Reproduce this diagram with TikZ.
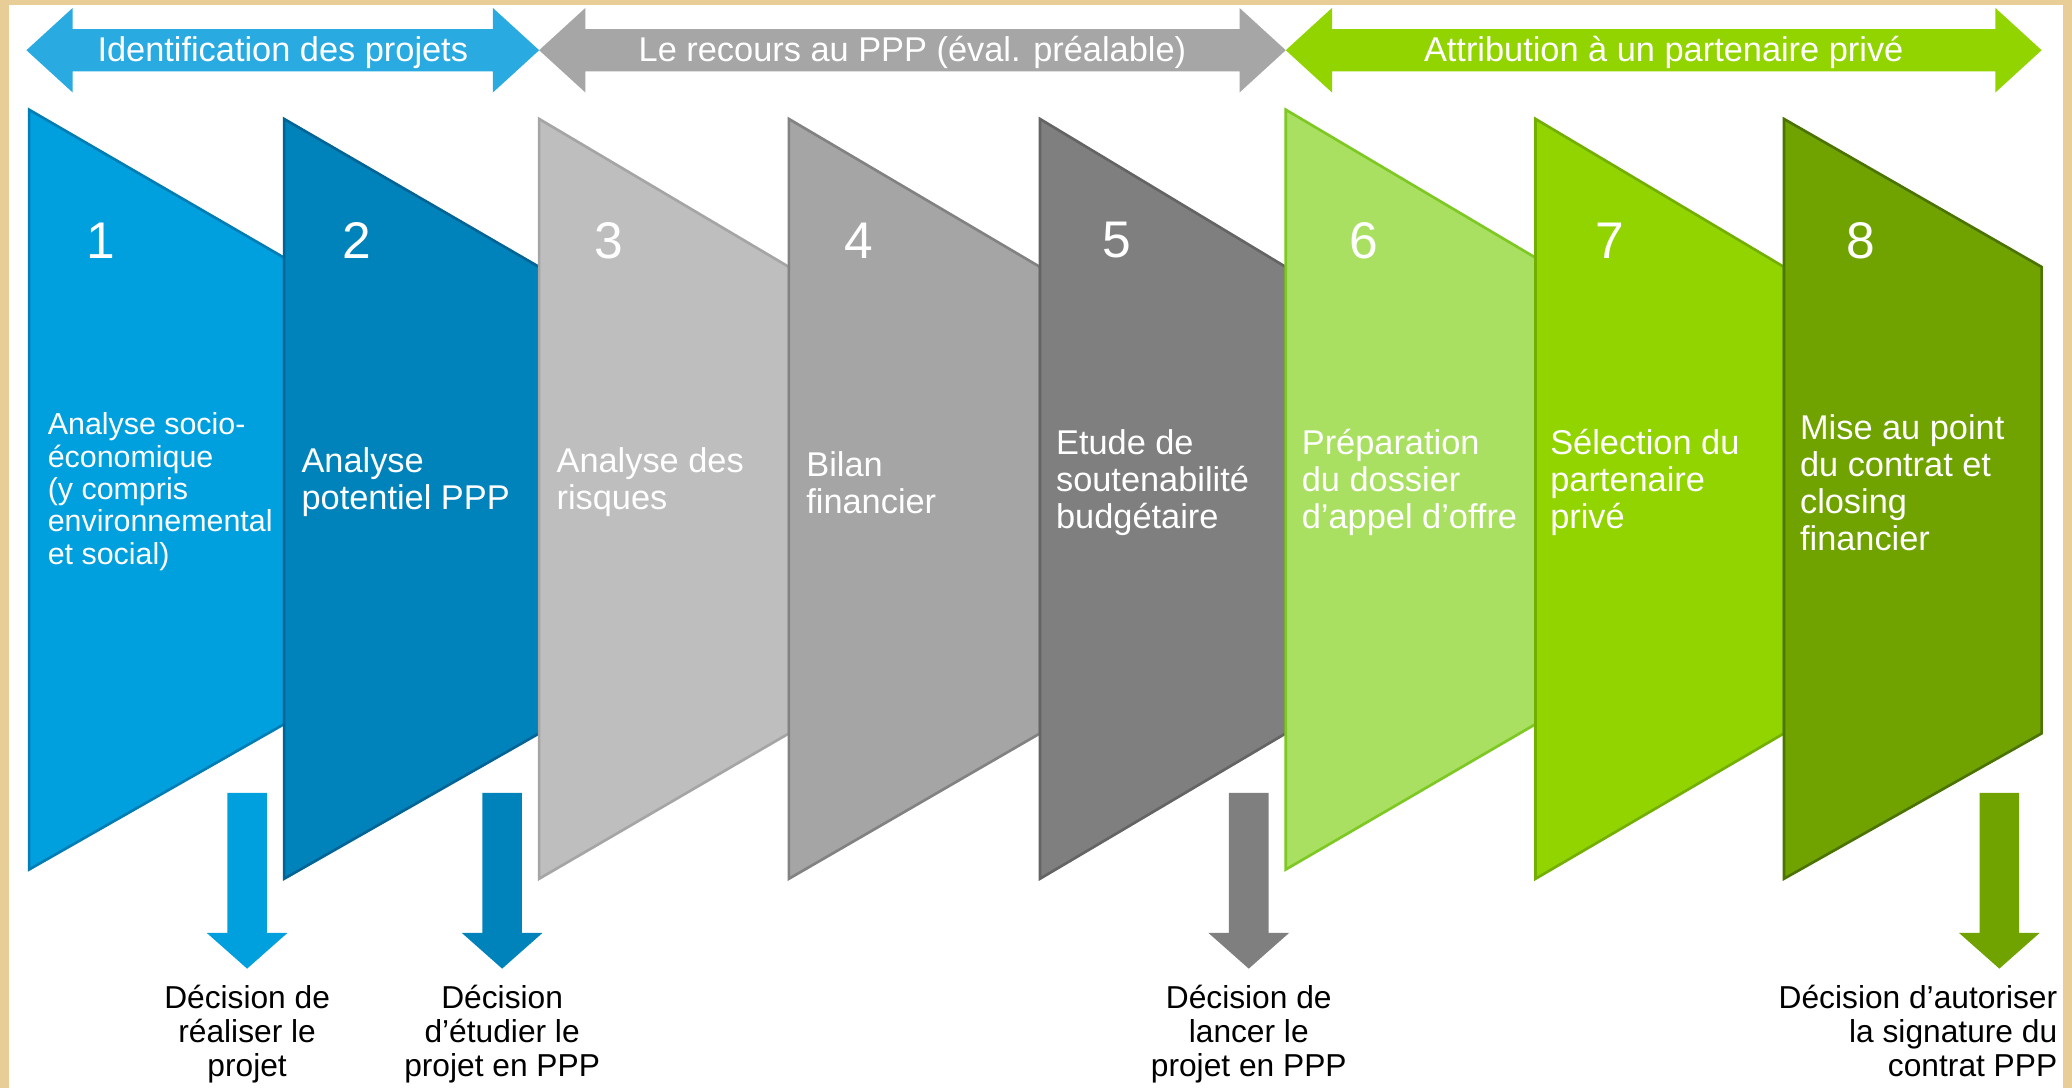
\documentclass[tikz,border=0pt]{standalone}
\usepackage{fontspec}
\setmainfont{Liberation Sans}
\usetikzlibrary{positioning}

\definecolor{parchment}{RGB}{232,206,150}
\definecolor{phaseA}{RGB}{41,170,225}
\definecolor{phaseB}{RGB}{166,166,166}
\definecolor{phaseC}{RGB}{146,212,0}
\definecolor{stageFill1}{RGB}{0,160,222}   \definecolor{stageLine1}{RGB}{0,125,180}
\definecolor{stageFill2}{RGB}{0,131,186}   \definecolor{stageLine2}{RGB}{0,100,150}
\definecolor{stageFill3}{RGB}{190,190,190} \definecolor{stageLine3}{RGB}{165,165,165}
\definecolor{stageFill4}{RGB}{165,165,165} \definecolor{stageLine4}{RGB}{130,130,130}
\definecolor{stageFill5}{RGB}{127,127,127} \definecolor{stageLine5}{RGB}{100,100,100}
\definecolor{stageFill6}{RGB}{170,224,98}  \definecolor{stageLine6}{RGB}{125,200,35}
\definecolor{stageFill7}{RGB}{146,212,0}   \definecolor{stageLine7}{RGB}{115,175,0}
\definecolor{stageFill8}{RGB}{112,163,0}   \definecolor{stageLine8}{RGB}{75,115,0}

\tikzstyle{PhaseLabel}=[text=white, inner sep=0pt, font=\fontsize{26}{28}\selectfont]
\tikzstyle{StageNum}=[text=white, inner sep=0pt, font=\fontsize{39}{40}\selectfont]
\tikzstyle{StageText}=[text=white, inner sep=0pt, anchor=west, align=left, font=\fontsize{26}{28}\selectfont]
\tikzstyle{Decision}=[text=black, inner sep=0pt, align=center, font=\fontsize{24}{26}\selectfont]

\begin{document}
\begin{tikzpicture}[x=1pt, y=-1pt]
	\useasboundingbox (0,0) rectangle (1568,823);
	%Fondo
	\fill[parchment] (0,0) rectangle (1568,823);
	\fill[white] (7,4) rectangle (1561,823);

	%Fases
	\foreach \xl/\xr/\col/\name/\label in {20/408/phaseA/identif/Identification des projets, 408/973/phaseB/recours/Le recours au PPP (éval. préalable), 973/1545/phaseC/attrib/Attribution à un partenaire privé}{
		\fill[\col] (\xl,38) -- (\xl+35,6) -- (\xl+35,22) -- (\xr-35,22) -- (\xr-35,6) -- (\xr,38)
			-- (\xr-35,70) -- (\xr-35,54) -- (\xl+35,54) -- (\xl+35,70) -- cycle;
		\node[PhaseLabel] (\name) at ({(\xl+\xr)/2},40) {\label};
	}

	%Etapes
	\foreach \n/\xa/\xb/\dy/\nx in {1/22/215/-7/76, 2/215/408/0/270, 3/408/597/0/461, 4/597/787/0/650, 5/787/973/0/845, 6/973/1162/-7/1032, 7/1162/1350/0/1218, 8/1350/1545/0/1408}{
		\filldraw[fill=stageFill\n, draw=stageLine\n, line width=2pt] (\xa,{90+(\dy)}) -- (\xb,{202+(\dy)}) -- (\xb,{555+(\dy)}) -- (\xa,{665+(\dy)}) -- cycle;
		\node[StageNum] (num\n) at (\nx,182) {\n};
	}

	\node[StageText, font=\fontsize{23}{24.5}\selectfont] (txt1) at (36,372) {Analyse socio-\\économique\\(y compris\\environnemental\\et social)};
	\node[StageText] (txt2) at (228,365) {Analyse\\potentiel PPP};
	\node[StageText] (txt3) at (421,365) {Analyse des\\risques};
	\node[StageText] (txt4) at (610,365) {Bilan\\financier};
	\node[StageText] (txt5) at (799,365) {Etude de\\soutenabilité\\budgétaire};
	\node[StageText] (txt6) at (985,365) {Préparation\\du dossier\\d’appel d’offre};
	\node[StageText] (txt7) at (1173,365) {Sélection du\\partenaire\\privé};
	\node[StageText] (txt8) at (1362,365) {Mise au point\\du contrat et\\closing\\financier};

	%Decisions
	\foreach \n/\cx/\col in {1/187/stageFill1, 2/380/stageFill2, 3/945/stageFill5, 4/1513/stageFill8}{
		\coordinate (arr\n) at (\cx,600);
		\coordinate (tip\n) at (\cx,733);
		\fill[\col] (arr\n) ++(-15,0) -- ++(30,0) -- ++(0,106) -- ++(15.5,0) -- (tip\n) -- ++(-30.5,-27) -- ++(15.5,0) -- cycle;
	}

	\node[Decision] (dec1) [below=12pt of tip1] {Décision de\\réaliser le\\projet};
	\node[Decision] (dec2) [below=12pt of tip2] {Décision\\d’étudier le\\projet en PPP};
	\node[Decision] (dec3) [below=12pt of tip3] {Décision de\\lancer le\\projet en PPP};
	\node[Decision, align=right, anchor=north east] (dec4) at (1557,745) {Décision d’autoriser\\la signature du\\contrat PPP};

\end{tikzpicture}
\end{document}
